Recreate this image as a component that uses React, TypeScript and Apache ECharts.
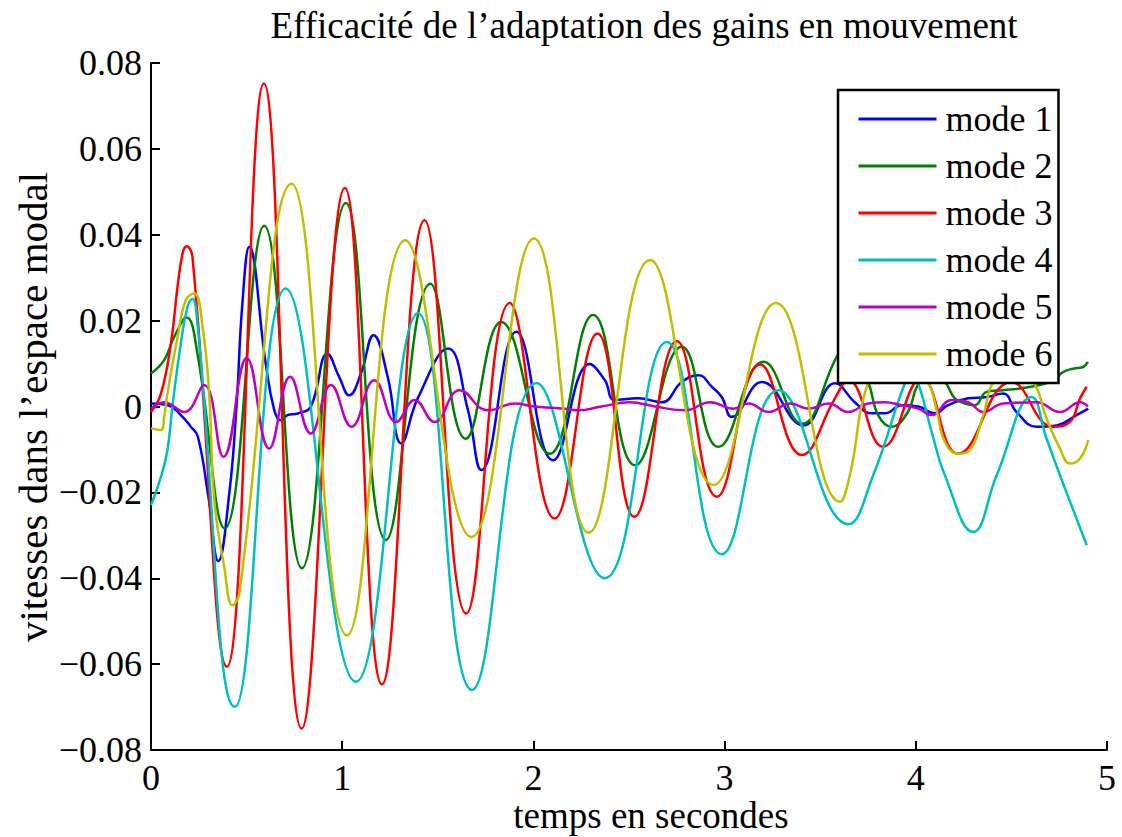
import React, { useEffect, useRef } from "react";
import * as echarts from "echarts";

const FONT = "'Liberation Serif', 'Times New Roman', serif";

const titleText = "Efficacité de l’adaptation des gains en mouvement";
const xLabelText = "temps en secondes";
const yLabelText = "vitesses dans l’espace modal";
const seriesNames = ["mode 1", "mode 2", "mode 3", "mode 4", "mode 5", "mode 6"];
const seriesColors = ["#0000ff", "#008000", "#ff0000", "#00bfbf", "#bf00bf", "#bfbf00"];

const mode1T = [0, 0.09, 0.156, 0.208, 0.245, 0.3, 0.352, 0.41, 0.447, 0.478, 0.514, 0.6, 0.645, 0.679, 0.714, 0.77, 0.836, 0.923, 0.984, 1.037, 1.098, 1.164, 1.238, 1.309, 1.396, 1.553, 1.658, 1.728, 1.911, 2.103, 2.295, 2.374, 2.425, 2.549, 2.671, 2.776, 2.863, 2.933, 2.985, 3.038, 3.195, 3.413, 3.578, 3.681, 3.769, 3.838, 3.926, 4.013, 4.1, 4.169, 4.274, 4.37, 4.457, 4.527, 4.632, 4.737, 4.841, 4.902];
const mode1V = [0.0007, 0.0003, -0.002, -0.0047, -0.007, -0.021, -0.036, -0.02, 0.0, 0.024, 0.0372, 0.01, -0.0009, -0.0032, -0.002, -0.0016, 0.0, 0.0123, 0.0069, 0.0026, 0.0077, 0.0166, 0.0069, -0.0086, 0.002, 0.0135, -0.0009, -0.0148, 0.0174, -0.0125, 0.0099, 0.0061, 0.0015, 0.0019, 0.001, 0.0057, 0.0073, 0.0046, 0.0022, -0.0024, 0.0057, -0.0044, 0.0054, 0.001, -0.0016, -0.0016, 0.0003, 0.0, -0.0016, 0.0003, 0.0019, 0.0022, 0.003, -0.0013, -0.0047, -0.0044, -0.002, -0.0005];

const mode2T = [0, 0.069, 0.121, 0.186, 0.243, 0.386, 0.592, 0.789, 1.019, 1.229, 1.461, 1.646, 1.832, 2.085, 2.312, 2.532, 2.776, 2.968, 3.204, 3.404, 3.596, 3.655, 3.751, 3.803, 3.873, 3.958, 4.01, 4.08, 4.152, 4.204, 4.257, 4.309, 4.37, 4.457, 4.544, 4.648, 4.718, 4.77, 4.823, 4.875, 4.9];
const mode2V = [0.0077, 0.0108, 0.0162, 0.0207, 0.0123, -0.0284, 0.0421, -0.0377, 0.0474, -0.0311, 0.0286, -0.0075, 0.0197, -0.011, 0.0213, -0.0137, 0.0139, -0.0094, 0.0104, -0.004, 0.0123, 0.014, 0.0057, -0.002, -0.0047, -0.0013, 0.005, 0.008, 0.0057, 0.0019, 0.0007, 0.0003, 0.0034, 0.0038, 0.0042, 0.005, 0.0061, 0.008, 0.0088, 0.0092, 0.0104];

const mode3T = [0, 0.052, 0.104, 0.139, 0.165, 0.186, 0.217, 0.397, 0.59, 0.788, 1.014, 1.208, 1.431, 1.649, 1.876, 2.111, 2.335, 2.528, 2.75, 2.959, 3.186, 3.404, 3.577, 3.645, 3.829, 4.03, 4.222, 4.5, 4.719, 4.806, 4.859, 4.894];
const mode3V = [-0.0013, 0.003, 0.0147, 0.0279, 0.0356, 0.0373, 0.0348, -0.0606, 0.0752, -0.075, 0.0509, -0.0647, 0.0434, -0.0482, 0.0241, -0.0261, 0.017, -0.0257, 0.0152, -0.021, 0.0098, -0.0113, 0.0019, 0.0062, -0.0094, 0.0065, -0.011, 0.0057, -0.0047, -0.0036, 0.0019, 0.0046];

const mode4T = [0, 0.052, 0.086, 0.112, 0.156, 0.191, 0.217, 0.243, 0.439, 0.705, 1.072, 1.396, 1.679, 2.016, 2.373, 2.698, 2.985, 3.282, 3.648, 3.777, 3.943, 3.98, 4.013, 4.083, 4.152, 4.3, 4.423, 4.606, 4.684, 4.754, 4.894];
const mode4V = [-0.023, -0.0164, -0.0102, 0.0, 0.0147, 0.0232, 0.0251, 0.0193, -0.07, 0.0275, -0.0641, 0.0217, -0.066, 0.0055, -0.04, 0.015, -0.0344, 0.0038, -0.0274, -0.016, 0.0054, 0.0075, 0.0054, -0.0059, -0.016, -0.0292, -0.016, 0.0022, -0.0075, -0.016, -0.0323];

const mode5T = [0, 0.069, 0.174, 0.278, 0.379, 0.501, 0.618, 0.728, 0.836, 0.941, 1.049, 1.168, 1.283, 1.379, 1.483, 1.614, 1.762, 1.902, 2.007, 2.164, 2.233, 2.356, 2.504, 2.636, 2.793, 2.924, 3.046, 3.125, 3.23, 3.343, 3.44, 3.544, 3.646, 3.751, 3.838, 3.926, 4.013, 4.083, 4.187, 4.274, 4.353, 4.457, 4.632, 4.754, 4.859, 4.9];
const mode5V = [-0.0005, 0.001, -0.0013, 0.005, -0.0117, 0.0113, -0.0098, 0.0069, -0.0063, 0.005, -0.0047, 0.0061, -0.0036, 0.0015, -0.0036, 0.0038, -0.0009, 0.0007, 0.0, -0.0005, -0.0009, 0.0, 0.001, 0.0, -0.0009, 0.001, -0.0005, 0.0007, -0.0013, 0.0007, -0.0005, 0.0007, -0.0013, 0.0007, 0.001, 0.0003, -0.0005, -0.002, 0.0015, 0.001, -0.0013, 0.0007, 0.001, -0.0013, 0.001, 0.0];

const mode6T = [0, 0.052, 0.069, 0.086, 0.139, 0.182, 0.226, 0.27, 0.304, 0.331, 0.383, 0.426, 0.462, 0.735, 1.025, 1.33, 1.676, 2.003, 2.289, 2.61, 2.942, 3.268, 3.605, 3.655, 3.751, 3.9, 4.065, 4.109, 4.152, 4.222, 4.274, 4.353, 4.405, 4.5, 4.614, 4.684, 4.754, 4.806, 4.859, 4.902];
const mode6V = [-0.0051, -0.0055, -0.0024, 0.003, 0.0162, 0.0248, 0.0263, 0.0185, 0.003, -0.0218, -0.0374, -0.0463, -0.0435, 0.0519, -0.0533, 0.0387, -0.0304, 0.0391, -0.0294, 0.0341, -0.0183, 0.0241, -0.0222, -0.016, 0.0057, 0.017, 0.0057, -0.0009, -0.0082, -0.011, -0.0105, -0.002, 0.0057, 0.009, 0.0057, -0.0028, -0.0098, -0.0133, -0.0121, -0.0078];

const allT = [mode1T, mode2T, mode3T, mode4T, mode5T, mode6T];
const allV = [mode1V, mode2V, mode3V, mode4V, mode5V, mode6V];

const xTicks = { min: 0, max: 5, interval: 1 };
const yTicks = { min: -0.08, max: 0.08, interval: 0.02 };

function fmtY(v: number): string {
  const r = Math.round(v * 100) / 100;
  if (Math.abs(r) < 1e-9) return "0";
  return (r < 0 ? "\u2212" : "") + Math.abs(r).toFixed(2);
}

export default function App() {
  const ref = useRef<HTMLDivElement>(null);
  useEffect(() => {
    if (!ref.current) return;
    const chart = echarts.init(ref.current, null, { renderer: "svg" });
    const series = seriesNames.map((name, i) => ({
      name,
      type: "line",
      data: allT[i].map((t, k) => [t, allV[i][k]]),
      smooth: 0.45,
      symbol: "none",
      showSymbol: false,
      lineStyle: { color: seriesColors[i], width: 2.5 },
      itemStyle: { color: seriesColors[i] },
    }));
    chart.setOption({
      animation: false,
      backgroundColor: "#ffffff",
      grid: { left: 151, right: 15, top: 63, bottom: 87, containLabel: false },
      xAxis: {
        type: "value",
        min: xTicks.min,
        max: xTicks.max,
        interval: xTicks.interval,
        axisLine: { show: true, onZero: false, lineStyle: { color: "#000", width: 2 } },
        axisTick: { show: true, inside: true, length: 9, lineStyle: { color: "#000", width: 2 } },
        axisLabel: { color: "#000", fontSize: 36, fontFamily: FONT, margin: 10 },
        splitLine: { show: false },
      },
      yAxis: {
        type: "value",
        min: yTicks.min,
        max: yTicks.max,
        interval: yTicks.interval,
        axisLine: { show: true, onZero: false, lineStyle: { color: "#000", width: 2 } },
        axisTick: { show: true, inside: true, length: 9, lineStyle: { color: "#000", width: 2 } },
        axisLabel: { color: "#000", fontSize: 36, fontFamily: FONT, margin: 9, formatter: fmtY },
        splitLine: { show: false },
      },
      legend: {
        data: seriesNames,
        orient: "vertical",
        left: 838,
        top: 90,
        z: 50,
        itemWidth: 78,
        itemHeight: 14,
        itemGap: 7,
        padding: [9, 6, 9, 19],
        backgroundColor: "#ffffff",
        borderColor: "#000",
        borderWidth: 2.5,
        itemStyle: { opacity: 0 },
        lineStyle: { width: 3 },
        textStyle: { color: "#000", fontSize: 36, fontFamily: FONT, lineHeight: 40, padding: [0, 0, 0, 4] },
      },
      graphic: [
        {
          type: "text",
          x: 644,
          y: 25,
          style: { text: titleText, fontSize: 37, fontFamily: FONT, fill: "#000", align: "center", verticalAlign: "middle" },
        },
        {
          type: "text",
          x: 651,
          y: 815,
          style: { text: xLabelText, fontSize: 37, fontFamily: FONT, fill: "#000", align: "center", verticalAlign: "middle" },
        },
        {
          type: "text",
          x: 33,
          y: 407,
          rotation: Math.PI / 2,
          style: { text: yLabelText, fontSize: 41, fontFamily: FONT, fill: "#000", align: "center", verticalAlign: "middle" },
        },
      ],
      series,
    });
    return () => chart.dispose();
  }, []);
  return <div ref={ref} style={{ position: "fixed", left: 0, top: 0, width: 1122, height: 837 }} />;
}
